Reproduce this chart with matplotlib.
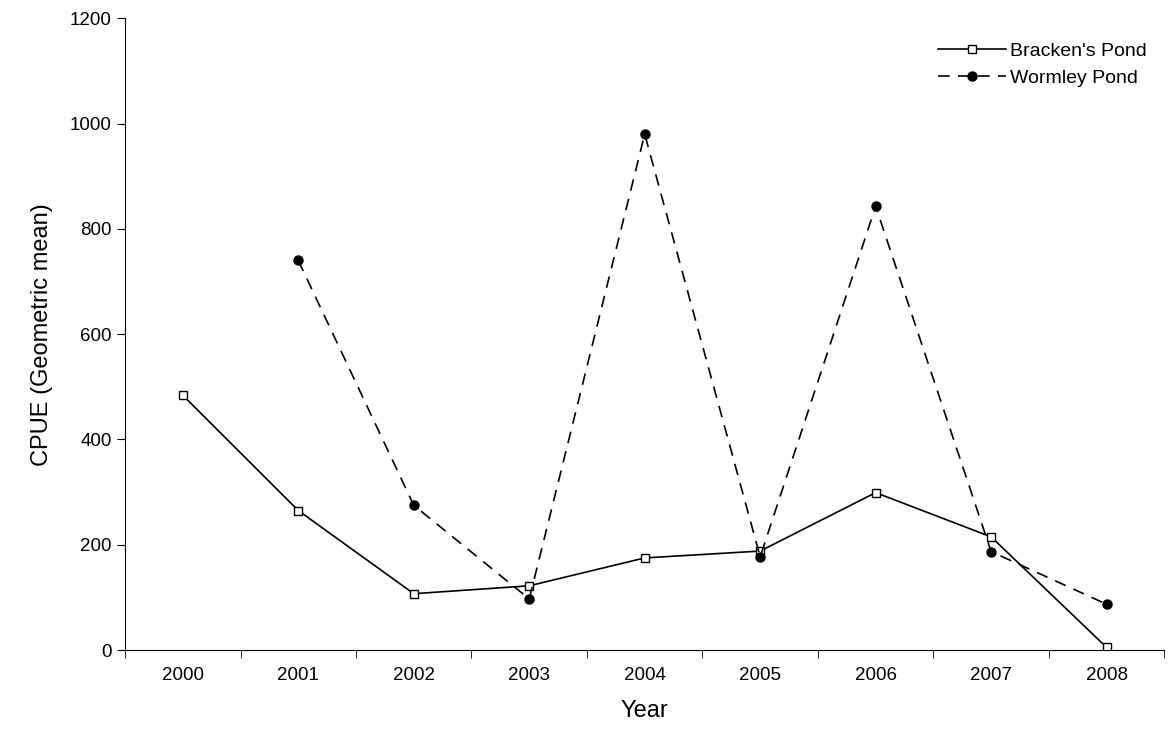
import numpy as np
import matplotlib.pyplot as plt

plt.rcParams['font.family'] = ['Liberation Sans', 'DejaVu Sans']

years = ['2000', '2001', '2002', '2003', '2004', '2005', '2006', '2007', '2008']
bracken = [484, 265, 107, 122, 175, 188, 299, 215, 5]
wormley_years = ['2001', '2002', '2003', '2004', '2005', '2006', '2007', '2008']
wormley = [740, 275, 97, 980, 177, 843, 187, 87]

fig = plt.figure(figsize=(11.69, 7.52), dpi=100)
ax = fig.add_axes([0.107, 0.1356, 0.889, 0.84])

xb = np.arange(len(years))
xw = np.array([years.index(y) for y in wormley_years])

ax.plot(xb, bracken, color='black', lw=1.2, marker='s', ms=6,
        mfc='white', mec='black', mew=1, label="Bracken's Pond")
ax.plot(xw, wormley, color='black', lw=1.2, ls=(0, (7, 5)), marker='o', ms=6.5,
        mfc='black', mec='black', label='Wormley Pond')

ax.set_xlim(-0.5, len(years) - 0.5)
ax.set_ylim(0, 1200)
ax.set_yticks(range(0, 1201, 200))
ax.set_xticks(xb)
ax.set_xticklabels(years)
ax.tick_params(axis='x', length=0, pad=12, labelsize=13.5)
ax.set_xticks(np.arange(-0.5, len(years)), minor=True)
ax.tick_params(axis='x', which='minor', length=6, direction='out')
ax.tick_params(axis='y', length=6, direction='out', labelsize=13.5)
ax.spines['top'].set_visible(False)
ax.spines['right'].set_visible(False)

ax.set_xlabel('Year', fontsize=17, labelpad=12)
ax.set_ylabel('CPUE (Geometric mean)', fontsize=17, labelpad=12)
ax.legend(loc='upper right', frameon=False, fontsize=14, handlelength=3.5,
          handletextpad=0.2, bbox_to_anchor=(1.0, 0.99))

fig.savefig('out.png', dpi=100)
